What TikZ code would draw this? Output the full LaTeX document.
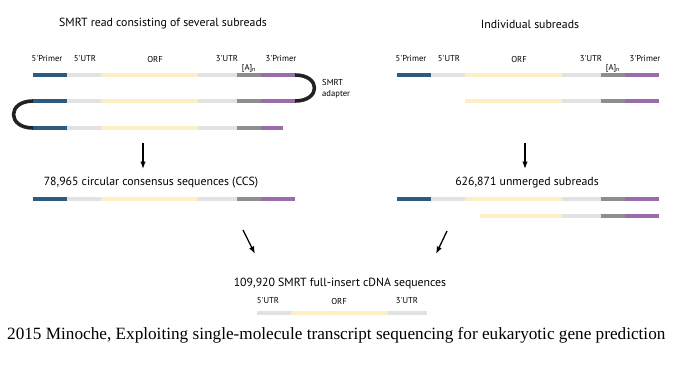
\documentclass[tikz,border=0pt]{standalone}
\usepackage{fontspec}
\setmainfont{Liberation Serif}
\newfontfamily\diagfont{PT Sans}
\usepackage{tikz}
\usetikzlibrary{arrows.meta, positioning}

\definecolor{primerfive}{HTML}{2B5B80}
\definecolor{utrgray}{HTML}{E2E2E2}
\definecolor{orfyellow}{HTML}{FCEFC4}
\definecolor{polyagray}{HTML}{8E8E8E}
\definecolor{primerthree}{HTML}{9A6DA8}
\definecolor{adapterblack}{HTML}{222222}

\tikzset{
  seg/.style={line width=4pt, line cap=butt},
  adapter/.style={line width=3.6pt, adapterblack, line cap=butt},
  flow/.style={line width=1.3pt, -{Latex[length=7.5pt, width=5.5pt]}},
  lbl/.style={font=\diagfont\fontsize{8.6}{10}\selectfont, inner sep=0pt},
  head/.style={font=\diagfont\fontsize{11.8}{14}\selectfont, inner sep=0pt}
}

\begin{document}
\begin{tikzpicture}[x=1pt, y=-1pt, line join=round]
\useasboundingbox (0,0) rectangle (690,369);

% Segment boundaries of one read
\def\Aa{33} \def\Ab{67} \def\Ac{101} \def\Ad{198}
\def\Ae{237} \def\Af{261} \def\Ag{295}

% --- LEFT: SMRT read with adapters ---
\node[head] (smrt) at (163,24) {SMRT read consisting of several subreads};
\foreach \y in {75,101,128}{
  \draw[seg, primerfive]  (\Aa,\y) -- (\Ab,\y);
  \draw[seg, utrgray]     (\Ab,\y) -- (\Ac,\y);
  \draw[seg, orfyellow]   (\Ac,\y) -- (\Ad,\y);
  \draw[seg, utrgray]     (\Ad,\y) -- (\Ae,\y);
  \draw[seg, polyagray]   (\Ae,\y) -- (\Af,\y);
}
\draw[seg, primerthree] (\Af,75) -- (\Ag,75);
\draw[seg, primerthree] (\Af,101) -- (\Ag,101);
\draw[seg, primerthree] (\Af,128) -- (283,128);

% adapters
\coordinate (ra) at (\Ag,75);
\coordinate (rb) at (\Ag,101);
\coordinate (la) at (\Aa,101);
\coordinate (lb) at (\Aa,128);
\draw[adapter] (ra) .. controls (321,75) and (321,101) .. (rb);
\draw[adapter] (la) .. controls (7,101) and (7,128) .. (lb);
\node[lbl, anchor=west, align=left] (adlbl) at (322,89) {SMRT\\[1pt]adapter};

% --- RIGHT: individual subreads ---
\begin{scope}[xshift=364pt]
  \foreach \y in {75,199}{
    \draw[seg, primerfive]  (\Aa,\y) -- (\Ab,\y);
    \draw[seg, utrgray]     (\Ab,\y) -- (\Ac,\y);
  }
  \foreach \y in {75,101,199}{
    \draw[seg, orfyellow]   (\Ac,\y) -- (\Ad,\y);
    \draw[seg, utrgray]     (\Ad,\y) -- (\Ae,\y);
    \draw[seg, polyagray]   (\Ae,\y) -- (\Af,\y);
    \draw[seg, primerthree] (\Af,\y) -- (\Ag,\y);
  }
  \draw[seg, orfyellow]   (116,216) -- (\Ad,216);
  \draw[seg, utrgray]     (\Ad,216) -- (\Ae,216);
  \draw[seg, polyagray]   (\Ae,216) -- (\Af,216);
  \draw[seg, primerthree] (\Af,216) -- (\Ag,216);
  \draw[seg, orfyellow]   (116,101) -- (\Ac,101);
\end{scope}
\node[head] (indiv) at (530,24) {Individual subreads};

% segment labels, both reads
\foreach \dx/\p in {0/l, 364/r}{
  \node[lbl] (\p prim5) at (47+\dx,59) {5'Primer};
  \node[lbl] (\p utr5)  at (85+\dx,59) {5'UTR};
  \node[lbl] (\p orf)   at (155+\dx,59) {ORF};
  \node[lbl] (\p utr3)  at (227+\dx,59) {3'UTR};
  \node[lbl] (\p polya) at (249+\dx,68) {[A]\textsubscript{n}};
  \node[lbl] (\p prim3) at (281+\dx,59) {3'Primer};
}

% --- MIDDLE ROW: CCS ---
\node[head] (ccs) at (151,183) {78,965 circular consensus sequences (CCS)};
\draw[seg, primerfive]  (\Aa,199) -- (\Ab,199);
\draw[seg, utrgray]     (\Ab,199) -- (\Ac,199);
\draw[seg, orfyellow]   (\Ac,199) -- (\Ad,199);
\draw[seg, utrgray]     (\Ad,199) -- (\Ae,199);
\draw[seg, polyagray]   (\Ae,199) -- (\Af,199);
\draw[seg, primerthree] (\Af,199) -- (\Ag,199);

\node[head] (unmerged) at (527,183) {626,871 unmerged subreads};

% --- BOTTOM: full-insert cDNA ---
\node[head] (cdna) at (340,283) {109,920 SMRT full-insert cDNA sequences};
\begin{scope}[xshift=190pt]
  \draw[seg, utrgray]   (\Ab,313) -- (\Ac,313);
  \draw[seg, orfyellow] (\Ac,313) -- (\Ad,313);
  \draw[seg, utrgray]   (\Ad,313) -- (\Ae,313);
\end{scope}
\node[lbl] (butr5) at (268,301) {5'UTR};
\node[lbl] (borf)  at (339,301) {ORF};
\node[lbl] (butr3) at (407,301) {3'UTR};

% arrows
\coordinate (lfrom) at (143,143);
\coordinate (lto)   at (143,169);
\coordinate (rfrom) at (525,143);
\coordinate (rto)   at (525,169);
\coordinate (cfroml) at (243,230);
\coordinate (ctol)   at (255,254);
\coordinate (cfromr) at (447,231);
\coordinate (ctor)   at (436,254);
\draw[flow] (lfrom) -- (lto);
\draw[flow] (rfrom) -- (rto);
\draw[flow] (cfroml) -- (ctol);
\draw[flow] (cfromr) -- (ctor);

% caption
\node[anchor=west, inner sep=0pt, font=\fontsize{17.2}{19}\selectfont] (cap) at (7,335)
  {2015 Minoche, Exploiting single-molecule transcript sequencing for eukaryotic gene prediction};
\end{tikzpicture}
\end{document}
